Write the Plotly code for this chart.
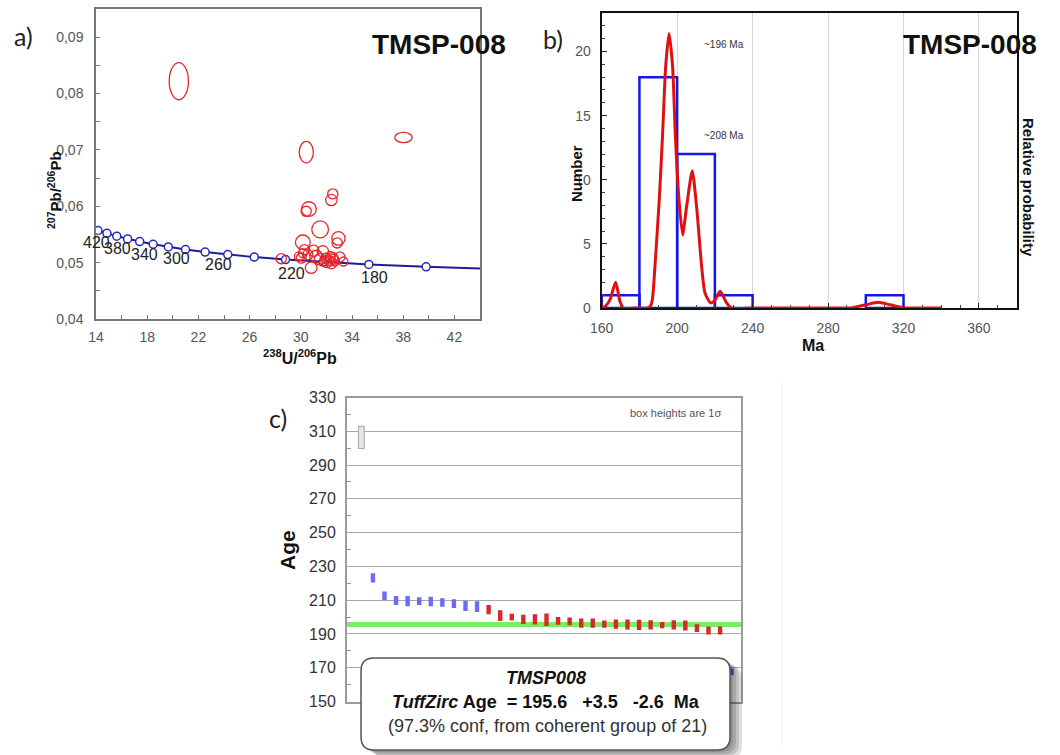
import plotly.graph_objects as go

W, H = 1060, 755
FONT = "Liberation Sans, Arial, sans-serif"


def px(x):
    return x / W


def py(y):
    return 1 - y / H


# ---------------- a) Tera-Wasserburg concordia ----------------
conc_age = [460, 440, 420, 400, 380, 360, 340, 320, 300, 280, 260, 240, 220, 200, 180, 160, 140]
conc_u238 = [13.520, 14.157, 14.854, 15.621, 16.469, 17.411, 18.465, 19.649, 20.992,
             22.527, 24.297, 26.363, 28.805, 31.735, 35.316, 39.790, 45.548]
conc_pb207 = [0.056192, 0.055689, 0.055192, 0.054700, 0.054215, 0.053735, 0.053262, 0.052795,
              0.052333, 0.051875, 0.051425, 0.050979, 0.050540, 0.050107, 0.049678, 0.049255, 0.048835]
tick_age_labels = [420, 380, 340, 300, 260, 220, 180]
label_shift = {420: (-10, -9), 380: (-10, -10), 340: (-9, -10), 300: (-9, -9),
               260: (-9, -10), 220: (6, -14), 180: (6, -13)}

# analysis ellipses: centre, half-widths
ell_x = [20.47, 30.43, 38.02, 32.50, 32.39, 30.63, 30.42, 31.51, 32.94, 32.84, 30.16,
         30.29, 30.16, 28.47, 30.81, 30.03, 31.20, 31.72, 33.33, 31.95, 32.30, 32.55,
         32.05, 32.65, 32.40, 31.85, 32.20, 32.50, 30.55, 31.50, 29.85, 31.00, 33.05]
ell_y = [0.0822, 0.0696, 0.0722, 0.0622, 0.0611, 0.0595, 0.0591, 0.0559, 0.0543, 0.0535, 0.0536,
         0.0523, 0.0517, 0.0507, 0.0491, 0.0508, 0.0511, 0.0520, 0.0502, 0.0508, 0.0511, 0.0506,
         0.0500, 0.0503, 0.0498, 0.0503, 0.0504, 0.0509, 0.0514, 0.0506, 0.0511, 0.0521, 0.0510]
ell_rx = [0.75, 0.55, 0.68, 0.40, 0.45, 0.58, 0.40, 0.65, 0.52, 0.40, 0.58,
          0.40, 0.35, 0.40, 0.46, 0.38, 0.50, 0.45, 0.35, 0.38, 0.38, 0.38,
          0.38, 0.38, 0.38, 0.38, 0.38, 0.38, 0.40, 0.45, 0.35, 0.42, 0.40]
ell_ry = [0.0033, 0.0019, 0.0009, 0.0009, 0.0010, 0.0013, 0.0009, 0.0015, 0.0012, 0.0009, 0.0013,
          0.0009, 0.0008, 0.0009, 0.0010, 0.0009, 0.0011, 0.0010, 0.0008, 0.0009, 0.0009, 0.0009,
          0.0009, 0.0009, 0.0009, 0.0009, 0.0009, 0.0009, 0.0009, 0.0010, 0.0008, 0.0010, 0.0009]

# ---------------- b) histogram + probability density ----------------
bin_centres = [170, 190, 210, 230, 310]
bin_counts = [1, 18, 12, 1, 1]
pdf_age = [160, 162, 164.4, 167.4, 169.7, 171.5, 178, 184.5, 186, 187, 188.2, 190.5, 192.3,
           193.9, 195.7, 197.6, 199, 201, 202.9, 205, 208, 210.3, 213, 214.7, 217.7, 220,
           222.8, 226.2, 228.8, 240, 260, 280, 293, 300, 306.5, 313, 319.8, 330, 340]
pdf_val = [0, 0.15, 0.65, 2.0, 0.5, 0, 0, 0, 0.2, 0.8, 3.2, 8.4, 13.6,
           18.8, 21.4, 18.8, 13.6, 8.4, 5.7, 7.9, 10.7, 7.9, 3.2, 1.2, 0.4, 0.6,
           1.3, 0.4, 0, 0, 0, 0, 0.03, 0.25, 0.45, 0.25, 0.03, 0, 0]

# ---------------- c) TuffZirc ranked ages ----------------
rej_old_age, rej_old_sig = [306.4], [6.6]
blue_age = [223.2, 212.6, 209.8, 209.4, 209.4, 209.2, 208.6, 208.0, 206.6, 206.2, 167.5]
blue_sig = [2.8, 2.5, 2.7, 3.0, 2.3, 2.8, 2.5, 2.6, 3.0, 3.2, 2.0]
blue_idx = [1, 2, 3, 4, 5, 6, 7, 8, 9, 10, 32]
red_age = [204.4, 200.8, 200.0, 198.6, 198.6, 198.4, 197.8, 197.4, 196.4, 196.4, 195.8,
           195.8, 195.6, 195.4, 195.4, 195.2, 195.4, 195.0, 193.4, 192.0, 192.0]
red_sig = [2.7, 3.2, 2.0, 2.7, 3.0, 3.7, 2.3, 2.3, 2.7, 2.7, 2.2,
           2.7, 2.9, 3.0, 2.7, 1.8, 2.7, 3.0, 2.3, 2.4, 2.4]
red_idx = list(range(11, 32))
tuffzirc_age = 195.6
c_xrange = [-1.24, 32.81]

fig = go.Figure()

# a) concordia curve and age markers
fig.add_trace(go.Scatter(x=conc_u238, y=conc_pb207, mode="lines",
                         line=dict(color="#1c1c9c", width=2), xaxis="x", yaxis="y",
                         hoverinfo="skip"))
fig.add_trace(go.Scatter(x=conc_u238[1:-1], y=conc_pb207[1:-1], mode="markers",
                         marker=dict(symbol="circle", size=8, color="white",
                                     line=dict(color="#2a2ab4", width=1.5)),
                         xaxis="x", yaxis="y"))

# b) histogram outline and density curve
fig.add_trace(go.Bar(x=bin_centres, y=bin_counts, width=20, xaxis="x2", yaxis="y2",
                     marker=dict(color="rgba(0,0,0,0)", line=dict(color="#1616e6", width=2.5))))
fig.add_trace(go.Scatter(x=pdf_age, y=pdf_val, mode="lines", xaxis="x2", yaxis="y2",
                         line=dict(color="#e01010", width=3, shape="spline", smoothing=0.6)))

# c) ranked 1-sigma boxes
fig.add_trace(go.Bar(x=[0], y=[2 * s for s in rej_old_sig],
                     base=[a - s for a, s in zip(rej_old_age, rej_old_sig)],
                     width=0.5, xaxis="x3", yaxis="y3",
                     marker=dict(color="#e4e4e4", line=dict(color="#a8a8a8", width=1))))
fig.add_trace(go.Bar(x=blue_idx, y=[2 * s for s in blue_sig],
                     base=[a - s for a, s in zip(blue_age, blue_sig)],
                     width=0.38, xaxis="x3", yaxis="y3",
                     marker=dict(color="#6b6bf5", line=dict(width=0))))
fig.add_trace(go.Bar(x=red_idx, y=[2 * s for s in red_sig],
                     base=[a - s for a, s in zip(red_age, red_sig)],
                     width=0.38, xaxis="x3", yaxis="y3",
                     marker=dict(color="#d42a2a", line=dict(width=0))))

shapes = []
# weighted age line, kept beneath the boxes
shapes.append(dict(type="line", xref="x3", yref="y3", x0=c_xrange[0], x1=c_xrange[1],
                   y0=tuffzirc_age, y1=tuffzirc_age, layer="below",
                   line=dict(color="#77ee66", width=5)))

# error ellipses
for cx, cy, rx, ry in zip(ell_x, ell_y, ell_rx, ell_ry):
    shapes.append(dict(type="circle", xref="x", yref="y", x0=cx - rx, x1=cx + rx,
                       y0=cy - ry, y1=cy + ry, line=dict(color="#e8262a", width=1.3)))

# faint frame edge right of panel c
shapes.append(dict(type="line", xref="paper", yref="paper", x0=px(782), x1=px(782),
                   y0=py(382), y1=py(745), line=dict(color="#efefef", width=1)))


def rrect(x0, y0, x1, y1, r):
    def p(x, y):
        return f"{px(x):.5f},{py(y):.5f}"
    return (f"M {p(x0 + r, y0)} L {p(x1 - r, y0)} Q {p(x1, y0)} {p(x1, y0 + r)} "
            f"L {p(x1, y1 - r)} Q {p(x1, y1)} {p(x1 - r, y1)} L {p(x0 + r, y1)} "
            f"Q {p(x0, y1)} {p(x0, y1 - r)} L {p(x0, y0 + r)} Q {p(x0, y0)} {p(x0 + r, y0)} Z")


bx0, by0, bx1, by1 = 361, 658, 730, 750
for dx, dy in [(3, 2), (6, 4), (9, 6), (12, 8)]:
    shapes.append(dict(type="path", xref="paper", yref="paper",
                       path=rrect(bx0 + dx, by0 + dy, bx1 + dx, by1 + dy, 13),
                       fillcolor="rgba(0,0,0,0.13)", line=dict(width=0)))
shapes.append(dict(type="path", xref="paper", yref="paper", path=rrect(bx0, by0, bx1, by1, 13),
                   fillcolor="white", line=dict(color="#555555", width=1.5)))

ann = []


def text(x, y, s, size, color="#111", bold=False, family=FONT, angle=0, xanchor="center"):
    if bold:
        s = f"<b>{s}</b>"
    ann.append(dict(x=px(x), y=py(y), xref="paper", yref="paper", text=s, showarrow=False,
                    font=dict(size=size, color=color, family=family), textangle=angle,
                    xanchor=xanchor, yanchor="middle"))


# panel letters
text(23, 36, "a)", 25, "#222", family="Lato, sans-serif")
text(553, 39, "b)", 25, "#222", family="Lato, sans-serif")
text(278, 418, "c)", 25, "#222", family="Lato, sans-serif")

# sample names
text(439, 44, "TMSP-008", 28, "#111", bold=True)
text(970, 44, "TMSP-008", 28, "#111", bold=True)

# concordia age labels
for age in tick_age_labels:
    i = conc_age.index(age)
    dx, dy = label_shift[age]
    ann.append(dict(x=conc_u238[i], y=conc_pb207[i], xref="x", yref="y", text=str(age),
                    showarrow=False, xshift=dx, yshift=dy,
                    font=dict(size=16, color="#222", family=FONT)))

# axis titles
text(300, 357, "<sup>238</sup>U/<sup>206</sup>Pb", 16, "#111", bold=True)
text(55, 190, "<sup>207</sup>Pb/<sup>206</sup>Pb", 15, "#111", bold=True, angle=-90)
text(813, 345, "Ma", 16, "#111", bold=True)
text(576, 174, "Number", 15, "#111", bold=True, angle=-90)
text(1029, 187, "Relative probability", 15, "#111", bold=True, angle=90)
text(287, 550, "Age", 21, "#111", bold=True, angle=-90)

# peak labels
text(724, 44, "~196 Ma", 10, "#333")
text(724, 136, "~208 Ma", 10, "#333")

text(675, 413, "box heights are 1σ", 11, "#555")

# result box
NB = "\u00a0"
text(546, 678, "<b><i>TMSP008</i></b>", 18, "#111")
text(546, 702, f"<b><i>TuffZirc</i> Age {NB}= {tuffzirc_age}{NB*3}+3.5{NB*3}-2.6{NB*2}Ma</b>", 18, "#111")
text(547, 726, "(97.3% conf, from coherent group of 21)", 18, "#333")

tickfont_a = dict(size=14, color="#555", family=FONT)
axis_common = dict(showline=True, mirror=True, zeroline=False, ticks="inside", automargin=False)

fig.update_layout(
    width=W, height=H, margin=dict(l=0, r=0, t=0, b=0),
    paper_bgcolor="white", plot_bgcolor="white", showlegend=False,
    barmode="overlay", font=dict(family=FONT),
    xaxis=dict(domain=[px(96), px(480)], range=[14, 44], anchor="y",
               tickmode="array", tickvals=[14, 18, 22, 26, 30, 34, 38, 42],
               ticklen=4, tickcolor="#777", tickfont=tickfont_a,
               minor=dict(tickmode="array", tickvals=[16, 20, 24, 28, 32, 36, 40],
                          ticks="inside", ticklen=4, tickcolor="#777"),
               linecolor="#777", linewidth=1.5, showgrid=False, ticklabelstandoff=4,
               **axis_common),
    yaxis=dict(domain=[py(319), py(9)], range=[0.04, 0.095], anchor="x",
               tickmode="array", tickvals=[0.04, 0.05, 0.06, 0.07, 0.08, 0.09],
               ticktext=["0,04", "0,05", "0,06", "0,07", "0,08", "0,09"],
               ticklen=4, tickcolor="#777", tickfont=tickfont_a,
               minor=dict(tickmode="array", tickvals=[0.045, 0.055, 0.065, 0.075, 0.085],
                          ticks="inside", ticklen=4, tickcolor="#777"),
               linecolor="#777", linewidth=1.5, showgrid=False, ticklabelstandoff=8,
               **axis_common),
    xaxis2=dict(domain=[px(601.7), px(1016.7)], range=[160, 380], anchor="y2",
                tick0=160, dtick=40, ticklen=5, tickcolor="#222", tickfont=tickfont_a,
                minor=dict(dtick=10, ticks="inside", ticklen=3, tickcolor="#444"),
                showgrid=True, gridcolor="#d6d6d6", gridwidth=1,
                linecolor="#111", linewidth=2, ticklabelstandoff=6, **axis_common),
    yaxis2=dict(domain=[py(308), py(13)], range=[0, 23], anchor="x2",
                tick0=0, dtick=5, ticklen=5, tickcolor="#222", tickfont=tickfont_a,
                minor=dict(dtick=1, ticks="inside", ticklen=3, tickcolor="#444"),
                showgrid=False, linecolor="#111", linewidth=2, ticklabelstandoff=6,
                **axis_common),
    xaxis3=dict(domain=[px(347), px(741)], range=c_xrange, anchor="y3",
                showticklabels=False, ticks="", showgrid=False, showline=True, mirror=True,
                zeroline=False, linecolor="#9a9a9a", linewidth=2, automargin=False),
    yaxis3=dict(domain=[py(701.5), py(397.5)], range=[150, 330], anchor="x3",
                tick0=150, dtick=20, ticklen=0, tickfont=dict(size=16, color="#333", family=FONT),
                minor=dict(dtick=10, ticks="inside", ticklen=4, tickcolor="#999"),
                showgrid=True, gridcolor="#a8a8a8", gridwidth=1.2,
                linecolor="#9a9a9a", linewidth=2, ticklabelstandoff=6,
                showline=True, mirror=True, zeroline=False, ticks="inside", automargin=False),
    shapes=shapes, annotations=ann,
)

fig.write_html("out.html")
